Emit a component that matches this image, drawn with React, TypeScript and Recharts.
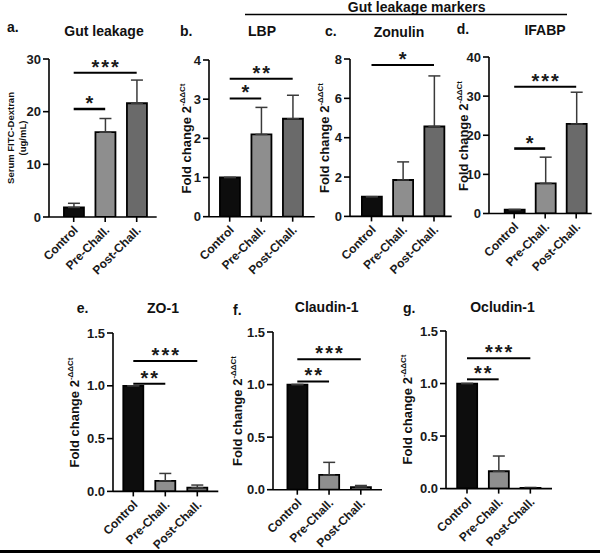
import React from 'react';
import { BarChart, Bar, XAxis, YAxis, ErrorBar, Cell, ReferenceLine } from 'recharts';

const FONT = '"Liberation Sans", Arial, sans-serif';

const categories = ['Control', 'Pre-Chall.', 'Post-Chall.'];
const barColors = ['#0d0d0d', '#8e8e8e', '#6a6a6a'];

const gutMean = [1.8, 16.1, 21.6];
const gutErr = [0.8, 2.6, 4.4];
const lbpMean = [1.0, 2.1, 2.5];
const lbpErr = [0, 0.69, 0.6];
const zonulinMean = [1.0, 1.85, 4.57];
const zonulinErr = [0, 0.92, 2.57];
const ifabpMean = [1.0, 7.7, 22.9];
const ifabpErr = [0, 6.7, 8.1];
const zo1Mean = [1.0, 0.1, 0.035];
const zo1Err = [0, 0.07, 0.025];
const claudinMean = [1.0, 0.14, 0.025];
const claudinErr = [0, 0.12, 0.015];
const ocludinMean = [1.0, 0.165, 0.006];
const ocludinErr = [0, 0.145, 0.005];

const gutTicks = [0, 10, 20, 30];
const lbpTicks = [0, 1, 2, 3, 4];
const zonulinTicks = [0, 2, 4, 6, 8];
const ifabpTicks = [0, 10, 20, 30, 40];
const tjTicks = [0, 0.5, 1.0, 1.5];

type Sig = { from: string; to: string; y: number; label: string; w?: number };

const gutSig: Sig[] = [
  { from: 'Control', to: 'Pre-Chall.', y: 20.5, label: '*', w: 2.6 },
  { from: 'Control', to: 'Post-Chall.', y: 27.4, label: '***' },
];
const lbpSig: Sig[] = [
  { from: 'Control', to: 'Pre-Chall.', y: 3.02, label: '*' },
  { from: 'Control', to: 'Post-Chall.', y: 3.52, label: '**' },
];
const zonulinSig: Sig[] = [{ from: 'Control', to: 'Post-Chall.', y: 7.7, label: '*' }];
const ifabpSig: Sig[] = [
  { from: 'Control', to: 'Pre-Chall.', y: 16.6, label: '*', w: 2.6 },
  { from: 'Control', to: 'Post-Chall.', y: 32.4, label: '***' },
];
const zo1Sig: Sig[] = [
  { from: 'Control', to: 'Pre-Chall.', y: 1.02, label: '**' },
  { from: 'Control', to: 'Post-Chall.', y: 1.235, label: '***' },
];
const claudinSig: Sig[] = [
  { from: 'Control', to: 'Pre-Chall.', y: 1.03, label: '**' },
  { from: 'Control', to: 'Post-Chall.', y: 1.24, label: '***' },
];
const ocludinSig: Sig[] = [
  { from: 'Control', to: 'Pre-Chall.', y: 1.04, label: '**' },
  { from: 'Control', to: 'Post-Chall.', y: 1.24, label: '***' },
];

const XTick = (props: any) => {
  const { x, y, payload } = props;
  return (
    <g transform={`translate(${x + 5},${y + 7})`}>
      <text x={0} y={0} transform="rotate(-45)" textAnchor="end" fontSize={12} fontWeight="bold" fill="#1a1a1a" fontFamily={FONT}>
        {payload.value}
      </text>
    </g>
  );
};

const StarLabel = (props: any) => {
  const vb = props.viewBox || {};
  let cx = 0;
  let cy = 0;
  if (vb.x1 !== undefined) {
    cx = (vb.x1 + vb.x2) / 2;
    cy = vb.y1;
  } else {
    cx = vb.x + (vb.width || 0) / 2;
    cy = vb.y;
  }
  return (
    <text x={cx + 1} y={cy + 1} textAnchor="middle" fontSize={20} fontWeight="bold" letterSpacing={2} fill="#1a1a1a" fontFamily={FONT}>
      {props.text}
    </text>
  );
};

type PanelProps = {
  axisX: number;
  xEnd: number;
  yTop: number;
  yBottom: number;
  c1: number;
  spacing: number;
  max: number;
  ticks: number[];
  means: number[];
  errs: number[];
  sigs: Sig[];
  decimals: number;
};

const ML = 60;
const XH = 60;
const MT = 14;
const MR = 4;

function Panel(p: PanelProps) {
  const left = p.axisX - ML;
  const top = p.yTop - MT;
  const width = p.xEnd + MR - left;
  const height = p.yBottom - top + XH;
  const pl = Math.max(0, p.c1 - p.spacing / 2 - p.axisX);
  const pr = Math.max(0, p.xEnd - (p.c1 + 2.5 * p.spacing));
  const data = categories.map((c, i) => ({ name: c, mean: p.means[i], err: [0, p.errs[i]] }));
  return (
    <div style={{ position: 'absolute', left, top, width, height }}>
      <BarChart width={width} height={height} data={data} margin={{ top: MT, right: MR, left: 0, bottom: 0 }}>
        <XAxis
          dataKey="name"
          height={XH}
          interval={0}
          tick={<XTick />}
          tickSize={5}
          padding={{ left: pl, right: pr }}
          stroke="#000"
          axisLine={{ stroke: '#000', strokeWidth: 1.6 }}
          tickLine={{ stroke: '#000', strokeWidth: 1.6 }}
        />
        <YAxis
          width={ML}
          domain={[0, p.max]}
          ticks={p.ticks}
          interval={0}
          allowDataOverflow
          tickSize={6}
          tickMargin={2}
          tickFormatter={(v: number) => v.toFixed(p.decimals)}
          tick={{ fontSize: 13, fontWeight: 'bold', fill: '#1a1a1a', fontFamily: FONT }}
          stroke="#000"
          axisLine={{ stroke: '#000', strokeWidth: 1.6 }}
          tickLine={{ stroke: '#000', strokeWidth: 1.6 }}
        />
        <Bar dataKey="mean" barSize={20} stroke="#000" strokeWidth={1.8} isAnimationActive={false}>
          {data.map((d, i) => (
            <Cell key={d.name} fill={barColors[i]} />
          ))}
          <ErrorBar dataKey="err" width={6} stroke="#3a3a3a" strokeWidth={1.5} direction="y" isAnimationActive={false} />
        </Bar>
        {p.sigs.map((s, i) => (
          <ReferenceLine
            key={i}
            segment={[
              { x: s.from, y: s.y },
              { x: s.to, y: s.y },
            ]}
            stroke="#000"
            strokeWidth={s.w || 2}
            ifOverflow="visible"
            label={<StarLabel text={s.label} />}
          />
        ))}
      </BarChart>
    </div>
  );
}

const Title = ({ x, y, children, anchor = 'middle' }: any) => (
  <text x={x} y={y} textAnchor={anchor} fontSize={14} fontWeight="bold" fill="#111" fontFamily={FONT}>
    {children}
  </text>
);

const FoldLabel = ({ x, y }: { x: number; y: number }) => (
  <text x={x} y={y} transform={`rotate(-90 ${x} ${y})`} textAnchor="middle" fontSize={13} fontWeight="bold" fill="#111" fontFamily={FONT}>
    Fold change 2<tspan fontSize={8} dy={-6}>-ΔΔCt</tspan>
  </text>
);

export default function App() {
  return (
    <div style={{ position: 'absolute', left: 0, top: 0, width: 600, height: 555, background: '#fff', overflow: 'hidden' }}>
      <Panel axisX={49.3} xEnd={157} yTop={59.3} yBottom={217.3} c1={74} spacing={31.5} max={30} ticks={gutTicks} means={gutMean} errs={gutErr} sigs={gutSig} decimals={0} />
      <Panel axisX={209.3} xEnd={315} yTop={60} yBottom={216.7} c1={230} spacing={31.5} max={4} ticks={lbpTicks} means={lbpMean} errs={lbpErr} sigs={lbpSig} decimals={0} />
      <Panel axisX={350} xEnd={451.7} yTop={59.3} yBottom={216.7} c1={371.5} spacing={31.25} max={8} ticks={zonulinTicks} means={zonulinMean} errs={zonulinErr} sigs={zonulinSig} decimals={0} />
      <Panel axisX={489.3} xEnd={592} yTop={57.3} yBottom={213.8} c1={514.5} spacing={31} max={40} ticks={ifabpTicks} means={ifabpMean} errs={ifabpErr} sigs={ifabpSig} decimals={0} />
      <Panel axisX={112.7} xEnd={218} yTop={333.3} yBottom={491.7} c1={133} spacing={32} max={1.5} ticks={tjTicks} means={zo1Mean} errs={zo1Err} sigs={zo1Sig} decimals={1} />
      <Panel axisX={272.7} xEnd={381.7} yTop={332.3} yBottom={490} c1={297} spacing={31.75} max={1.5} ticks={tjTicks} means={claudinMean} errs={claudinErr} sigs={claudinSig} decimals={1} />
      <Panel axisX={445.7} xEnd={551.7} yTop={330.7} yBottom={488.3} c1={466.7} spacing={31.67} max={1.5} ticks={tjTicks} means={ocludinMean} errs={ocludinErr} sigs={ocludinSig} decimals={1} />

      <svg width={600} height={555} style={{ position: 'absolute', left: 0, top: 0, pointerEvents: 'none' }}>
        <Title x={416.7} y={12}>Gut leakage markers</Title>
        <line x1={245} y1={14.5} x2={567} y2={14.5} stroke="#000" strokeWidth={1.5} />

        <Title x={7} y={32} anchor="start">a.</Title>
        <Title x={104} y={36}>Gut leakage</Title>
        <Title x={180} y={35.5} anchor="start">b.</Title>
        <Title x={262} y={36}>LBP</Title>
        <Title x={325} y={35.5} anchor="start">c.</Title>
        <Title x={399} y={36.5}>Zonulin</Title>
        <Title x={456.7} y={33.5} anchor="start">d.</Title>
        <Title x={545} y={35}>IFABP</Title>

        <Title x={76.7} y={312.7} anchor="start">e.</Title>
        <Title x={163} y={313.3}>ZO-1</Title>
        <Title x={233} y={315} anchor="start">f.</Title>
        <Title x={326.7} y={311.7}>Claudin-1</Title>
        <Title x={403} y={313.3} anchor="start">g.</Title>
        <Title x={502.5} y={312.3}>Ocludin-1</Title>

        <text x={13.5} y={138} transform="rotate(-90 13.5 138)" textAnchor="middle" fontSize={9.5} fontWeight="bold" fill="#111" fontFamily={FONT}>
          Serum FITC-Dextran
        </text>
        <text x={26} y={138} transform="rotate(-90 26 138)" textAnchor="middle" fontSize={9.5} fontWeight="bold" fill="#111" fontFamily={FONT}>
          (ug/mL)
        </text>
        <FoldLabel x={191} y={138.5} />
        <FoldLabel x={328.5} y={138} />
        <FoldLabel x={468} y={136} />
        <FoldLabel x={78.5} y={412.5} />
        <FoldLabel x={242} y={411} />
        <FoldLabel x={412} y={409.5} />
      </svg>
      <div style={{ position: 'absolute', left: 0, top: 550, width: 600, height: 3, background: '#000' }} />
    </div>
  );
}
